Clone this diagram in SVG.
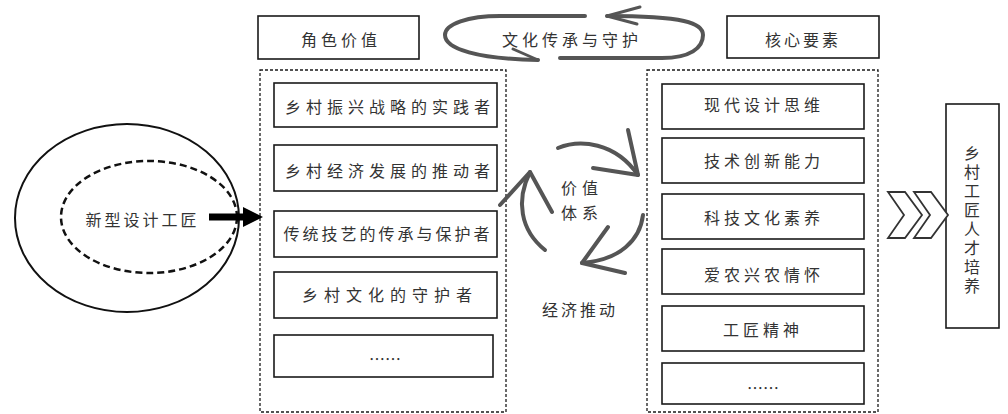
<svg xmlns="http://www.w3.org/2000/svg" width="1008" height="414" viewBox="0 0 1008 414">
<style>
.box{fill:#fff;stroke:#1a1a1a;stroke-width:1.6}
.dash{fill:none;stroke:#1a1a1a;stroke-width:1.3;stroke-dasharray:3 2}
.t{font-family:"Noto Sans CJK SC","Noto Sans",sans-serif;font-size:16px;fill:#333;text-anchor:middle}
.brush{fill:none;stroke:#555;stroke-width:4;stroke-linecap:round;stroke-linejoin:round}
.thin{fill:none;stroke:#555;stroke-width:3;stroke-linecap:round;stroke-linejoin:round}
</style>
<rect width="1008" height="414" fill="#fff"/>

<g id="node-craftsman">
<ellipse cx="127" cy="218" rx="112" ry="94" fill="none" stroke="#111" stroke-width="2"/>
<ellipse cx="149" cy="217" rx="88" ry="56" fill="none" stroke="#111" stroke-width="2.5" stroke-dasharray="7 4"/>
<text class="t" x="142.5" y="225.5" letter-spacing="3">新型设计工匠</text>
</g>

<g id="node-role-title">
<rect class="box" x="258" y="16" width="161" height="43"/>
<text class="t" x="341" y="46" letter-spacing="4">角色价值</text>
</g>

<g id="node-role-group">
<rect class="dash" x="260" y="70" width="246" height="342"/>
</g>
<g id="node-role-1">
<rect class="box" x="274" y="83" width="223" height="44"/>
<text class="t" x="390" y="113" letter-spacing="5">乡村振兴战略的实践者</text>
</g>
<g id="node-role-2">
<rect class="box" x="274" y="145" width="223" height="46"/>
<text class="t" x="390" y="176.5" letter-spacing="5">乡村经济发展的推动者</text>
</g>
<g id="node-role-3">
<rect class="box" x="274" y="211" width="223" height="46"/>
<text class="t" x="388" y="240" letter-spacing="3">传统技艺的传承与保护者</text>
</g>
<g id="node-role-4">
<rect class="box" x="274" y="272" width="223" height="46"/>
<text class="t" x="390" y="301" letter-spacing="6">乡村文化的守护者</text>
</g>
<g id="node-role-5">
<rect class="box" x="274" y="335" width="219" height="42"/>
<text class="t" x="385" y="365">……</text>
</g>

<g id="node-core-title">
<rect class="box" x="727" y="16" width="152" height="42"/>
<text class="t" x="803" y="46" letter-spacing="3">核心要素</text>
</g>
<g id="node-core-group">
<rect class="dash" x="647" y="70" width="231" height="342"/>
</g>
<g id="node-core-1">
<rect class="box" x="662" y="84" width="202" height="45"/>
<text class="t" x="764" y="111" letter-spacing="4">现代设计思维</text>
</g>
<g id="node-core-2">
<rect class="box" x="662" y="138" width="202" height="45"/>
<text class="t" x="764" y="167" letter-spacing="4">技术创新能力</text>
</g>
<g id="node-core-3">
<rect class="box" x="662" y="194" width="202" height="45"/>
<text class="t" x="764" y="223.5" letter-spacing="4">科技文化素养</text>
</g>
<g id="node-core-4">
<rect class="box" x="662" y="249" width="202" height="45"/>
<text class="t" x="764" y="280.5" letter-spacing="4">爱农兴农情怀</text>
</g>
<g id="node-core-5">
<rect class="box" x="662" y="306" width="202" height="45"/>
<text class="t" x="763" y="336" letter-spacing="4">工匠精神</text>
</g>
<g id="node-core-6">
<rect class="box" x="662" y="363" width="202" height="41"/>
<text class="t" x="763" y="394">……</text>
</g>

<g id="node-talent">
<rect class="box" x="946" y="104" width="53" height="224"/>
<text x="972" y="145" style="writing-mode:vertical-rl;font-family:'Noto Sans CJK SC','Noto Sans',sans-serif;font-size:16px;fill:#333;letter-spacing:3px">乡村工匠人才培养</text>
</g>

<g id="node-culture-cycle">
<path class="brush" d="M585 16 L500 16 C468 16 445 24 445 35 C445 49 478 59 538 60"/>
<path class="thin" d="M513 49 L538 60"/>
<path class="brush" d="M560 58 L662 58 C690 58 703 48 703 35 C703 23 684 16 607 16"/>
<path class="thin" d="M640 7 L607 16 L637 24"/>
<text class="t" x="572" y="46" letter-spacing="4">文化传承与守护</text>
</g>

<g id="node-value-cycle">
<path class="brush" d="M558 148 C580 139 615 142 638 175"/>
<path class="brush" d="M628 130 L638 175 L593 168"/>
<path class="brush" d="M643 215 C640 240 620 260 582 263"/>
<path class="brush" d="M608 227 L582 263 L625 273"/>
<path class="brush" d="M545 250 C520 230 516 200 530 172"/>
<path class="brush" d="M500 205 L530 172 L552 212"/>
<text class="t" x="582" y="194" font-size="15" letter-spacing="5">价值</text>
<text class="t" x="582" y="219" font-size="15" letter-spacing="5">体系</text>
<text class="t" x="580" y="315.5" letter-spacing="3">经济推动</text>
</g>

<g id="connectors">
<rect x="209" y="213.5" width="36" height="7" fill="#000"/>
<polygon points="243,207 263,217 243,227" fill="#000"/>
<polygon points="888,192 905,192 922,215 905,238 888,238 904,215" fill="#fff" stroke="#333" stroke-width="1.8"/>
<polygon points="914,192 931,192 948,215 931,238 914,238 930,215" fill="#fff" stroke="#333" stroke-width="1.8"/>
</g>
</svg>
